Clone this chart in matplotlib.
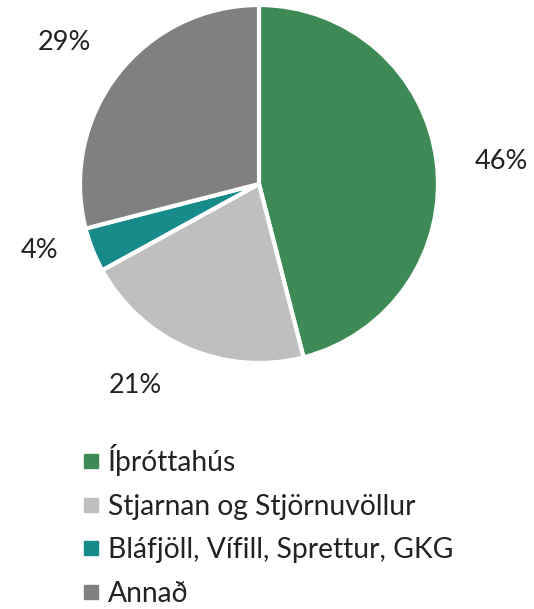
import matplotlib
matplotlib.use("Agg")
import matplotlib.pyplot as plt
from matplotlib.lines import Line2D

categories = ["Íþróttahús", "Stjarnan og Stjörnuvöllur", "Bláfjöll, Vífill, Sprettur, GKG", "Annað"]
values = [46, 21, 4, 29]
colors = ["#3d8a55", "#bfbfbf", "#178a8a", "#808080"]

plt.rcParams['font.family'] = ['Lato', 'DejaVu Sans']

W, H = 534, 609
fig = plt.figure(figsize=(W / 100, H / 100), dpi=100)
cx, cy, r = 259, 184, 179
ax = fig.add_axes([(cx - r) / W, 1 - (cy + r) / H, 2 * r / W, 2 * r / H])

wedges, texts, autotexts = ax.pie(
    values, colors=colors, startangle=90, counterclock=False,
    wedgeprops=dict(edgecolor="white", linewidth=3),
    autopct=lambda p: f"{p:.0f}%", pctdistance=1.35,
    textprops=dict(fontsize=19.5, color="#222222"))
ax.set_xlim(-1, 1)
ax.set_ylim(-1, 1)
ax.set_aspect("equal")

# label placement (Excel best-fit positions) in pixel coords
label_px = [(501, 161), (135, 385), (40, 250), (64, 42)]
for t, (px, py) in zip(autotexts, label_px):
    t.set_position(((px - cx) / r, (cy - py) / r))
    t.set_ha("center")
    t.set_va("center")

handles = [Line2D([0], [0], marker="s", linestyle="none", markersize=10,
                  markerfacecolor=c, markeredgecolor=c) for c in colors]
leg = fig.legend(handles, categories, loc="upper left",
                 bbox_to_anchor=(66 / W, 1 - 433 / H), frameon=False,
                 fontsize=20.3, labelspacing=0.62, handletextpad=0.1,
                 handlelength=1.0, borderaxespad=0)
for t in leg.get_texts():
    t.set_color("#222222")

fig.savefig("out.png", dpi=100)
